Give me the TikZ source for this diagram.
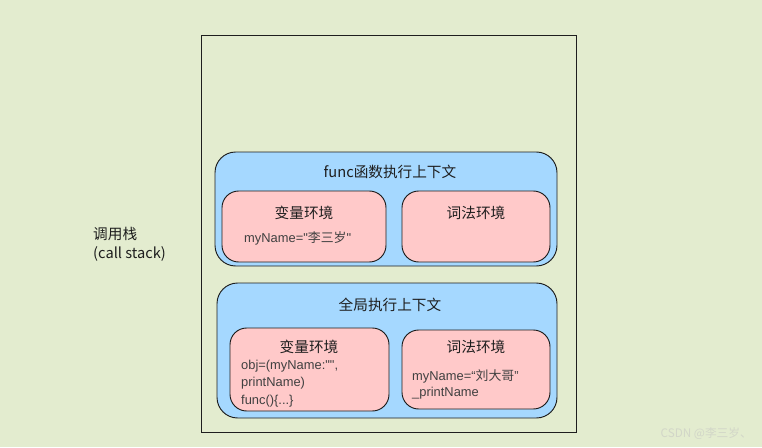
\documentclass[tikz,border=0pt]{standalone}
\usepackage{fontspec}
\setmainfont{Noto Sans CJK SC}
\newfontfamily\latinfont{Liberation Sans}
\usepackage{xcolor}
\definecolor{stackbg}{HTML}{E3ECCF}
\definecolor{ctxblue}{HTML}{A5D8FF}
\definecolor{envpink}{HTML}{FFC9C9}
\definecolor{inkgray}{HTML}{1E1E1E}
\definecolor{marktext}{HTML}{D2D6C8}

\begin{document}
\begin{tikzpicture}[x=0.03cm, y=-0.03cm, font=\fontsize{12.5}{16}\selectfont,
    ctxbox/.style={draw=inkgray, fill=ctxblue, line width=0.8pt, rounded corners=0.62cm},
    envbox/.style={draw=inkgray, fill=envpink, line width=0.8pt, rounded corners=0.5cm},
    codeline/.style={anchor=west, inner sep=0pt, text=inkgray!85, font=\latinfont\fontsize{11}{13}\selectfont}]
  \useasboundingbox[fill=stackbg] (0,0) rectangle (762,447);
  % call stack frame
  \draw[inkgray, line width=0.6pt] (201,35) rectangle (576,432);
  \node[anchor=west, align=left, text=inkgray, inner sep=0pt] (stacklabel) at (93,244) {调用栈\\(call stack)};
  % func execution context
  \draw[ctxbox] (215,152) rectangle (557,266);
  \node[text=inkgray] (functitle) at (390,172) {func函数执行上下文};
  \draw[envbox] (222,191) rectangle (386,262);
  \draw[envbox] (402,191) rectangle (550,262);
  \node[text=inkgray] (funcvar) at (304,213) {变量环境};
  \node[codeline] (funcname) at (244,238) {myName="{\rmfamily 李三岁}"};
  \node[text=inkgray] (funclex) at (476,213) {词法环境};
  % global execution context
  \draw[ctxbox] (217,283) rectangle (557,418);
  \node[text=inkgray] (globtitle) at (390,305) {全局执行上下文};
  \draw[envbox] (230,328) rectangle (389,411);
  \draw[envbox] (402,330) rectangle (550,409);
  \node[text=inkgray] (globvar) at (309,347) {变量环境};
  \foreach \ln/\txt in {366/{obj=(myName:"",}, 383/{printName)}, 401/{func()\{...\}}}
    \node[codeline] (globcode\ln) at (241,\ln) {\txt};
  \node[text=inkgray] (globlex) at (476,347) {词法环境};
  \node[codeline] (globname) at (412,376) {myName=“{\rmfamily 刘大哥}”};
  \node[codeline] (globfunc) at (412,393) {\_printName};
  % watermark
  \node[anchor=east, text=marktext, font=\fontsize{10}{12}\selectfont] (mark) at (756,434) {CSDN @李三岁、};
\end{tikzpicture}
\end{document}
